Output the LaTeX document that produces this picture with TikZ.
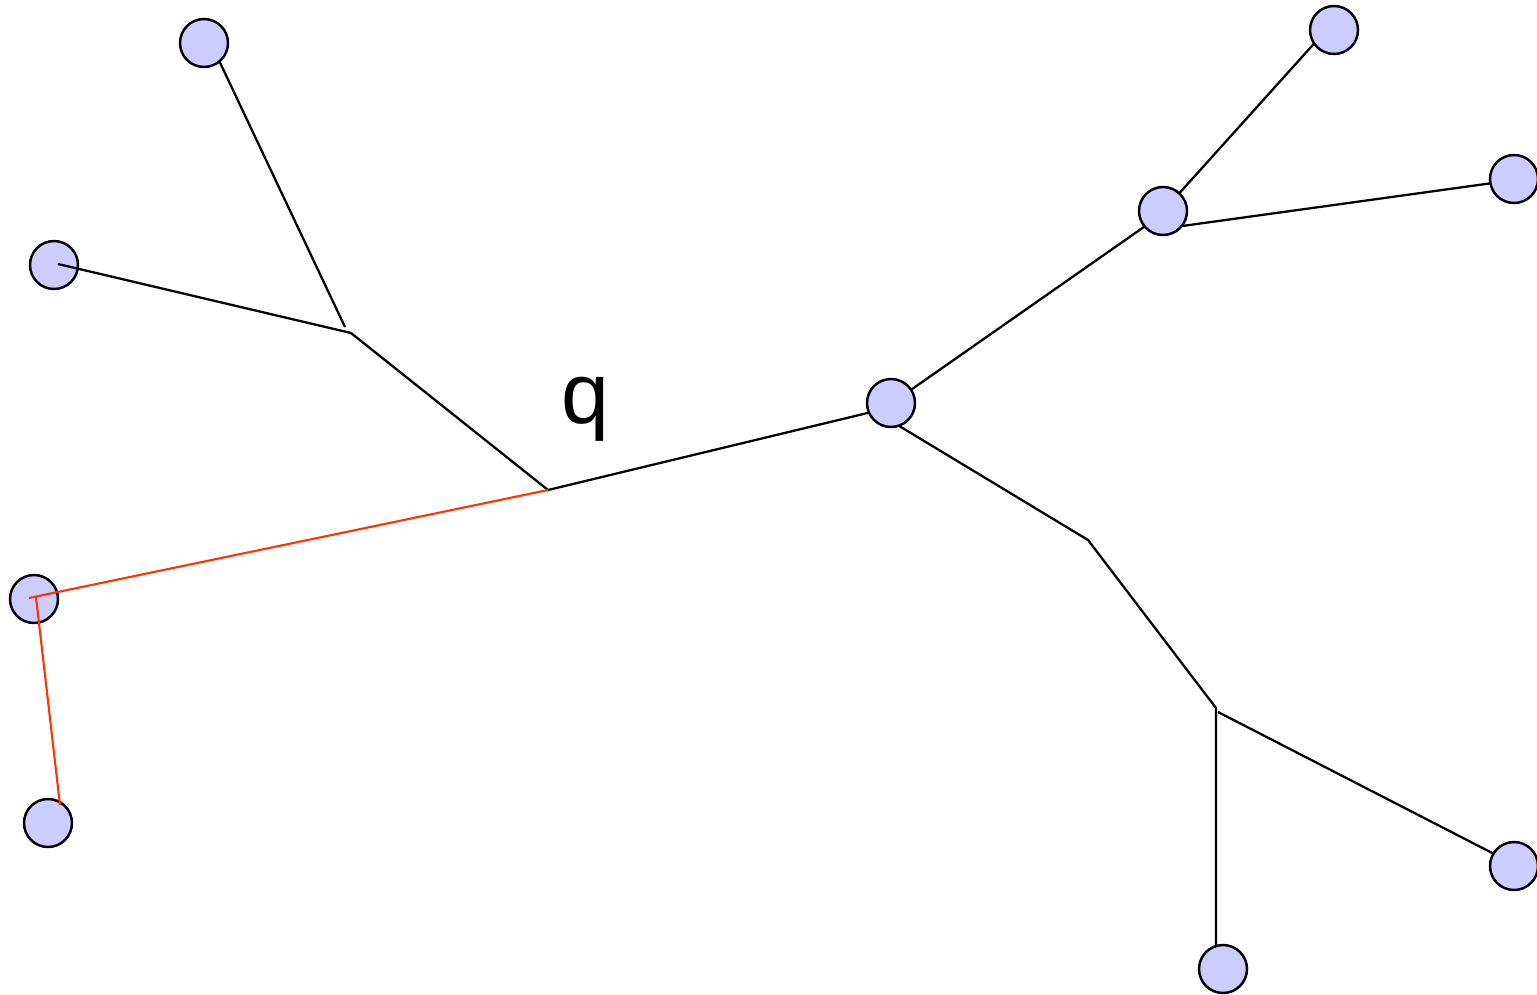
\documentclass[tikz,border=0pt]{standalone}
\usepackage{xcolor}
\usepackage{fontspec}
\setmainfont{Liberation Sans}
\usepackage{tikz}
\usetikzlibrary{backgrounds}
\definecolor{pathred}{RGB}{255,51,0}

\begin{document}
\begin{tikzpicture}[x=0.02cm, y=-0.02cm]

	% Define styles
	\tikzset{
		leaf/.style={
			circle, draw, fill=blue!20, line width=1.4pt,
			minimum size=0.96cm, inner sep=0pt
		},
		edge/.style={line width=1.3pt, black},
		redge/.style={line width=1.2pt, pathred},
		lbl/.style={font=\fontsize{49}{50}\selectfont, inner sep=0pt, anchor=base}
	}

	\useasboundingbox (0,0) rectangle (1537,994);

	% Vertices
	\node (a) [leaf] at (204,43)   {};
	\node (b) [leaf] at (54,265)   {};
	\node (c) [leaf] at (34,599)   {};
	\node (d) [leaf] at (48,823)   {};
	\node (e) [leaf] at (891,403)  {};
	\node (f) [leaf] at (1163,211) {};
	\node (g) [leaf] at (1334,30)  {};
	\node (h) [leaf] at (1514,179) {};
	\node (i) [leaf] at (1514,866) {};
	\node (j) [leaf] at (1223,969) {};

	% Inner points
	\coordinate (s1)  at (351,333);
	\coordinate (s1a) at (345,327);
	\coordinate (s2)  at (548,490);
	\coordinate (s3)  at (1088,540);
	\coordinate (s4)  at (1216,708);
	\coordinate (s4a) at (1218,712);

	% Where the edges end under the vertices
	\coordinate (a1) at (215,52);
	\coordinate (e1) at (880,410);
	\coordinate (e2) at (905,394);
	\coordinate (e3) at (891,421);
	\coordinate (f1) at (1151,222);
	\coordinate (f2) at (1175,198);
	\coordinate (f3) at (1175,227);
	\coordinate (g1) at (1320,37);
	\coordinate (h1) at (1500,182);
	\coordinate (i1) at (1500,857);
	\coordinate (j1) at (1216,960);
	\coordinate (b1) at (58,264);
	\coordinate (c1) at (29,598);
	\coordinate (c2) at (36,597);
	\coordinate (d1) at (60,805);

	% Label
	\node (q) [lbl] at (585,423) {q};

	% Black edges, behind the vertices
	\begin{scope}[on background layer]
		\draw[edge] (a1) -- (s1a);
		\draw[edge] (s1) -- (s2) -- (e1);
		\draw[edge] (e2) -- (f1);
		\draw[edge] (f2) -- (g1);
		\draw[edge] (f3) -- (h1);
		\draw[edge] (e3) -- (s3) -- (s4) -- (j1);
		\draw[edge] (s4a) -- (i1);
	\end{scope}
	\draw[edge] (b1) -- (s1);

	% Red path
	\draw[redge] (s2) -- (c1);
	\draw[redge] (c2) -- (d1);

\end{tikzpicture}
\end{document}
